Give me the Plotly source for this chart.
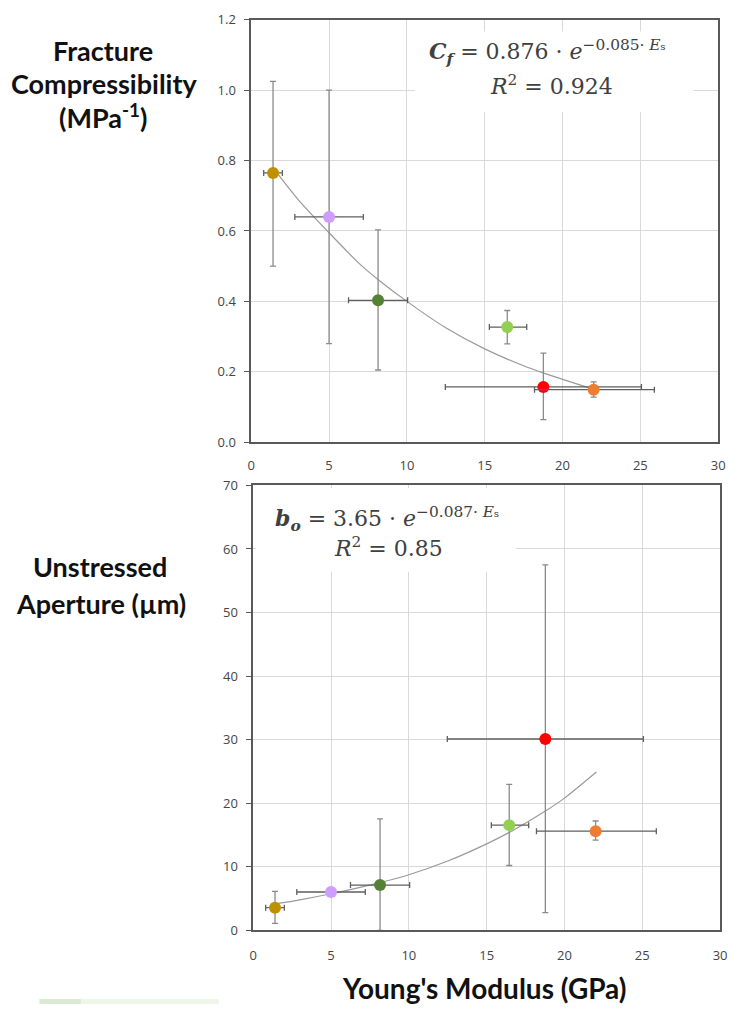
import plotly.graph_objects as go

# ---- data ----
youngs_modulus = [1.4, 5.0, 8.15, 16.45, 18.77, 22.0]
point_colors = ["#bf9000", "#cf9cff", "#548235", "#92d050", "#ff0000", "#ed7d31"]
xerr_minus = [0.6, 2.2, 1.9, 1.15, 6.3, 3.8]
xerr_plus = [0.6, 2.2, 1.9, 1.25, 6.3, 3.9]

compressibility = [0.765, 0.64, 0.403, 0.327, 0.157, 0.149]
comp_err_plus = [0.26, 0.36, 0.20, 0.047, 0.096, 0.022]
comp_err_minus = [0.265, 0.36, 0.198, 0.048, 0.093, 0.021]

aperture = [3.56, 6.03, 7.12, 16.55, 30.1, 15.6]
ap_err_plus = [2.57, 0.0, 10.4, 6.4, 27.4, 1.6]
ap_err_minus = [2.48, 0.0, 7.12, 6.35, 27.3, 1.4]

# trend curves
trend_top_x = [1.4, 3.0, 5.0, 7.0, 8.2, 10.0, 12.5, 15.0, 17.5, 18.75, 21.8]
trend_top_y = [0.78, 0.69, 0.595, 0.505, 0.46, 0.40, 0.325, 0.265, 0.217, 0.197, 0.153]
trend_bot_x = [1.4, 3.0, 5.0, 8.2, 10.0, 12.5, 15.0, 16.6, 18.8, 20.0, 22.05]
trend_bot_y = [4.15, 4.8, 5.75, 7.55, 8.75, 10.9, 13.6, 15.6, 18.8, 20.8, 24.9]

x_ticks = [0, 5, 10, 15, 20, 25, 30]
top_y_ticks = [0.0, 0.2, 0.4, 0.6, 0.8, 1.0, 1.2]
bot_y_ticks = [0, 10, 20, 30, 40, 50, 60, 70]

W, H = 735, 1013

def px(x):
    return x / W

def py(y):
    return 1 - y / H

fig = go.Figure()

# trend lines
fig.add_trace(go.Scatter(x=trend_top_x, y=trend_top_y, mode="lines",
                         line=dict(color="#9a9a9a", width=1.2, shape="spline", smoothing=0.8),
                         xaxis="x", yaxis="y", showlegend=False, hoverinfo="skip"))
fig.add_trace(go.Scatter(x=trend_bot_x, y=trend_bot_y, mode="lines",
                         line=dict(color="#9a9a9a", width=1.2, shape="spline", smoothing=0.8),
                         xaxis="x2", yaxis="y2", showlegend=False, hoverinfo="skip"))

for i in range(len(youngs_modulus)):
    ex = dict(type="data", symmetric=False, array=[xerr_plus[i]], arrayminus=[xerr_minus[i]],
              color="#5f5f5f", thickness=1.3, width=3)
    fig.add_trace(go.Scatter(
        x=[youngs_modulus[i]], y=[compressibility[i]], mode="markers",
        marker=dict(color=point_colors[i], size=12),
        error_x=ex,
        error_y=dict(type="data", symmetric=False, array=[comp_err_plus[i]],
                     arrayminus=[comp_err_minus[i]], color="#8a8a8a", thickness=1.3, width=3),
        xaxis="x", yaxis="y", showlegend=False))
    fig.add_trace(go.Scatter(
        x=[youngs_modulus[i]], y=[aperture[i]], mode="markers",
        marker=dict(color=point_colors[i], size=12),
        error_x=ex,
        error_y=dict(type="data", symmetric=False, array=[ap_err_plus[i]],
                     arrayminus=[ap_err_minus[i]], color="#8a8a8a", thickness=1.3, width=3,
                     visible=ap_err_plus[i] > 0),
        xaxis="x2", yaxis="y2", showlegend=False))

tickfont = dict(family="Open Sans", size=13, color="#454545")
axis_common = dict(showgrid=True, gridcolor="#d9d9d9", gridwidth=1, zeroline=False,
                   showline=True, mirror=True, linecolor="#595959", linewidth=1.5,
                   tickfont=tickfont, fixedrange=True)

fig.update_layout(
    width=W, height=H,
    margin=dict(l=0, r=0, t=0, b=0),
    paper_bgcolor="white", plot_bgcolor="white",
    xaxis=dict(domain=[px(251), px(725)], range=[0, 30], tickvals=x_ticks, anchor="y",
               ticks="", ticklabelstandoff=10, **axis_common),
    yaxis=dict(domain=[py(441), py(11)], range=[0, 1.2], tickvals=top_y_ticks,
               tickformat=".1f", anchor="x", ticks="outside", ticklen=5, tickcolor="#595959",
               ticklabelstandoff=6, **axis_common),
    xaxis2=dict(domain=[px(253), px(727)], range=[0, 30], tickvals=x_ticks, anchor="y2",
                ticks="", ticklabelstandoff=12, **axis_common),
    yaxis2=dict(domain=[py(938), py(485)], range=[0, 70], tickvals=bot_y_ticks,
                anchor="x2", ticks="outside", ticklen=5, tickcolor="#595959",
                ticklabelstandoff=6, **axis_common),
)

shapes = [
    # white boxes behind equations
    dict(type="rect", xref="paper", yref="paper", x0=px(417), x1=px(700), y0=py(105), y1=py(23),
         fillcolor="white", line=dict(width=0), layer="above"),
    dict(type="rect", xref="paper", yref="paper", x0=px(256), x1=px(520), y0=py(573), y1=py(488),
         fillcolor="white", line=dict(width=0), layer="above"),
    # faint green strip at bottom left
    dict(type="rect", xref="paper", yref="paper", x0=px(36), x1=px(218), y0=0, y1=py(1008),
         fillcolor="#eef5e9", line=dict(width=0)),
    dict(type="rect", xref="paper", yref="paper", x0=px(36), x1=px(78), y0=0, y1=py(1008),
         fillcolor="#dcebd4", line=dict(width=0)),
]
fig.update_layout(shapes=shapes)

eqfont = dict(family="DejaVu Serif", size=22, color="#404040")
lab = dict(family="Lato", size=27, color="#111111")

annotations = [
    dict(text="<b><i>C<sub>f</sub></i></b> = 0.876 · <i>e</i><sup>−0.085· <i>E</i>ₛ</sup>",
         x=px(552), y=py(44), font=eqfont),
    dict(text="<i>R</i><sup>2</sup> = 0.924", x=px(556), y=py(77), font=eqfont),
    dict(text="<b><i>b<sub>o</sub></i></b> = 3.65 · <i>e</i><sup>−0.087· <i>E</i>ₛ</sup>",
         x=px(389), y=py(519), font=eqfont),
    dict(text="<i>R</i><sup>2</sup> = 0.85", x=px(390), y=py(548), font=eqfont),
    dict(text="<b>Fracture</b>", x=px(100), y=py(42), font=lab),
    dict(text="<b>Compressibility</b>", x=px(102), y=py(76), font=lab),
    dict(text="<b>(MPa<sup>-1</sup>)</b>", x=px(100), y=py(109), font=lab),
    dict(text="<b>Unstressed</b>", x=px(97), y=py(568), font=lab),
    dict(text="<b>Aperture (µm)</b>", x=px(98), y=py(605), font=lab),
    dict(text="<b>Young's Modulus (GPa)</b>", x=px(488), y=py(997),
         font=dict(family="Lato", size=28, color="#111111")),
]
for a in annotations:
    a.update(xref="paper", yref="paper", showarrow=False, xanchor="center", yanchor="middle")
fig.update_layout(annotations=annotations)

fig.write_html("out.html")
